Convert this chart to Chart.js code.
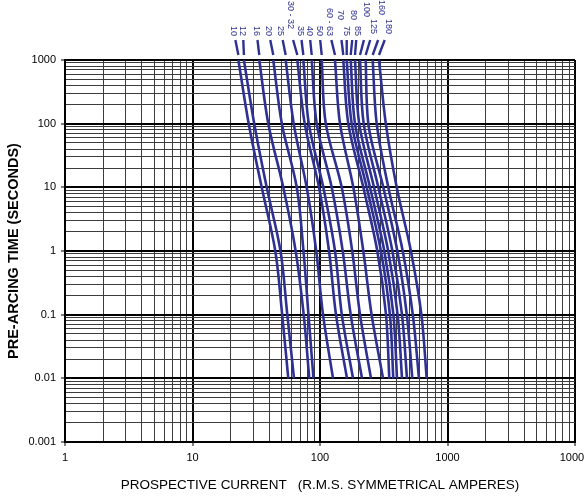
<!DOCTYPE html>
<html>
<head>
<meta charset="utf-8">
<script src="https://cdn.jsdelivr.net/npm/chart.js@4.4.1/dist/chart.umd.min.js"></script>
<style>
html,body{margin:0;padding:0;background:#ffffff;}
canvas{display:block;}
</style>
</head>
<body>
<canvas id="chart" width="584" height="498"></canvas>
<script>
// ---------- DATA ----------
// Pre-arcing time levels (seconds) at which each curve was read
const timeLevels = [1000, 100, 10, 1, 0.1, 0.01];

// Fuse ratings (curve labels)
const fuseLabels = ['10','12','16','20','25','30 - 32','35','40','50','60 - 63','70','75','80','85','100','125','160','180'];

// Prospective current (A) of each curve at the time levels above
const i10  = [22.9, 27.6, 34.9, 44.6, 50.5, 56.4];
const i12  = [25.3, 30.5, 38.2, 49.0, 55.4, 62.5];
const i16  = [33.4, 39.3, 51.5, 64.4, 74.5, 82.4];
const i20  = [43.0, 50.2, 65.7, 74.2, 81.2, 88.9];
const i25  = [53.8, 62.2, 78.6, 93.4, 105.6, 126.5];
const i30  = [66.4, 75.9, 98.2, 117.7, 133.5, 162.8];
const i35  = [74.0, 81.7, 106.1, 131.1, 148.3, 181.5];
const i40  = [86.1, 94.2, 123.5, 150.7, 174.1, 213.5];
const i50  = [103.1, 111.0, 148.0, 178.9, 206.0, 251.2];
const i60  = [131.1, 143.5, 182.5, 218.6, 253.9, 312.0];
const i70  = [152.3, 166.7, 218.6, 281.5, 329.4, 349.6];
const i75  = [162.0, 177.3, 232.4, 300.3, 353.4, 375.7];
const i80  = [174.1, 188.2, 246.7, 319.4, 376.4, 401.8];
const i85  = [188.2, 203.0, 265.2, 342.6, 406.2, 439.7];
const i100 = [206.0, 220.2, 286.7, 369.7, 439.7, 481.2];
const i125 = [228.3, 239.3, 313.7, 404.0, 479.5, 529.5];
const i160 = [259.0, 278.4, 343.3, 445.3, 534.3, 597.6];
const i180 = [290.2, 328.2, 399.6, 516.2, 624.1, 686.9];
const curveCurrents = [i10, i12, i16, i20, i25, i30, i35, i40, i50, i60, i70, i75, i80, i85, i100, i125, i160, i180];

// Axis tick labels
const xTickLabels = ['1', '10', '100', '1000', '10000'];
const yTickLabels = ['0.001', '0.01', '0.1', '1', '10', '100', '1000'];

// ---------- LAYOUT / STYLE ----------
const NAVY = '#2e3192';
const FONT = '"Liberation Sans", Arial, sans-serif';
// label placement relative to each curve's top end (px)
const labelShift = [-5, -1, -3, -5, -5, -7, -3, -2.5, -2.5, -6, -3, 0, 2.5, 2, 6.5, 7.5, 9, 9.5];
const labelLift  = [24, 24, 24, 24, 24, 31, 24, 24, 24, 24, 40, 24, 40, 24, 43, 26, 45, 26];

function decadeTicks(minExp, maxExp) {
  const t = [];
  for (let e = minExp; e < maxExp; e++) {
    for (let k = 1; k <= 9; k++) {
      t.push({ value: Number((k * Math.pow(10, e)).toPrecision(12)), major: k === 1 });
    }
  }
  t.push({ value: Math.pow(10, maxExp), major: true });
  return t;
}
function isDecade(v) {
  const l = Math.log10(v);
  return Math.abs(l - Math.round(l)) < 1e-9;
}
function tickLabel(v, labels, minExp) {
  if (!isDecade(v)) return '';
  const idx = Math.round(Math.log10(v)) - minExp;
  return labels[idx] !== undefined ? labels[idx] : '';
}

const datasets = curveCurrents.map((arr, i) => ({
  label: fuseLabels[i],
  data: arr.map((c, j) => ({ x: c, y: timeLevels[j] })),
  borderColor: NAVY,
  borderWidth: 2.6,
  pointRadius: 0,
  cubicInterpolationMode: 'monotone',
  fill: false
}));

const gridCommon = {
  color: (c) => (c.tick && c.tick.major ? '#000000' : '#3c3c3c'),
  lineWidth: (c) => (c.tick && c.tick.major ? 2 : 1),
  tickLength: 4,
  tickColor: (c) => (c.tick && c.tick.major ? '#000000' : 'rgba(0,0,0,0)'),
  tickWidth: 1,
  drawTicks: true
};

const labelPlugin = {
  id: 'fuseLabels',
  afterDatasetsDraw(chart) {
    const ctx = chart.ctx;
    const top = chart.chartArea.top;
    ctx.save();
    chart.data.datasets.forEach((ds, i) => {
      const meta = chart.getDatasetMeta(i);
      const p = meta.data[0];
      if (!p) return;
      const lx = p.x + labelShift[i];
      // leader line
      ctx.strokeStyle = NAVY;
      ctx.lineWidth = 2.4;
      ctx.beginPath();
      ctx.moveTo(p.x + labelShift[i] * 0.6, top - 20);
      ctx.lineTo(p.x, top - 5);
      ctx.stroke();
      // rotated label
      ctx.save();
      ctx.translate(lx, top - labelLift[i]);
      ctx.rotate(Math.PI / 2);
      ctx.fillStyle = NAVY;
      ctx.font = '9px ' + FONT;
      ctx.textAlign = 'right';
      ctx.textBaseline = 'middle';
      ctx.fillText(ds.label, 0, 0);
      ctx.restore();
    });
    ctx.restore();
  }
};

new Chart(document.getElementById('chart'), {
  type: 'line',
  data: { datasets },
  plugins: [labelPlugin],
  options: {
    responsive: false,
    animation: false,
    devicePixelRatio: 1,
    indexAxis: 'y',
    layout: { padding: { left: 0, top: 60, right: 9, bottom: 0 } },
    plugins: { legend: { display: false }, tooltip: { enabled: false } },
    scales: {
      x: {
        type: 'logarithmic',
        position: 'bottom',
        min: 1,
        max: 10000,
        afterBuildTicks: (s) => { s.ticks = decadeTicks(0, 4); },
        afterFit: (s) => { s.height = 56; s.paddingLeft = 0; s.paddingRight = 0; },
        grid: gridCommon,
        border: { color: '#000000', width: 2 },
        ticks: {
          autoSkip: false, maxRotation: 0, minRotation: 0, padding: 5,
          color: '#000000', font: { family: FONT, size: 11 },
          callback: (v) => tickLabel(v, xTickLabels, 0)
        },
        title: {
          display: true,
          text: 'PROSPECTIVE CURRENT   (R.M.S. SYMMETRICAL AMPERES)',
          color: '#000000',
          font: { family: FONT, size: 13.5 },
          padding: { top: 0, bottom: 5 }
        }
      },
      y: {
        type: 'logarithmic',
        position: 'left',
        min: 0.001,
        max: 1000,
        afterBuildTicks: (s) => { s.ticks = decadeTicks(-3, 3); },
        afterFit: (s) => { s.width = 65; s.paddingTop = 0; s.paddingBottom = 0; },
        grid: gridCommon,
        border: { color: '#000000', width: 2 },
        ticks: {
          autoSkip: false, padding: 5,
          color: '#000000', font: { family: FONT, size: 11 },
          callback: (v) => tickLabel(v, yTickLabels, -3)
        },
        title: {
          display: true,
          text: 'PRE-ARCING TIME (SECONDS)',
          color: '#000000',
          font: { family: FONT, size: 14.5, weight: 'bold' },
          padding: { top: 5, bottom: 0 }
        }
      }
    }
  }
});
</script>
</body>
</html>
